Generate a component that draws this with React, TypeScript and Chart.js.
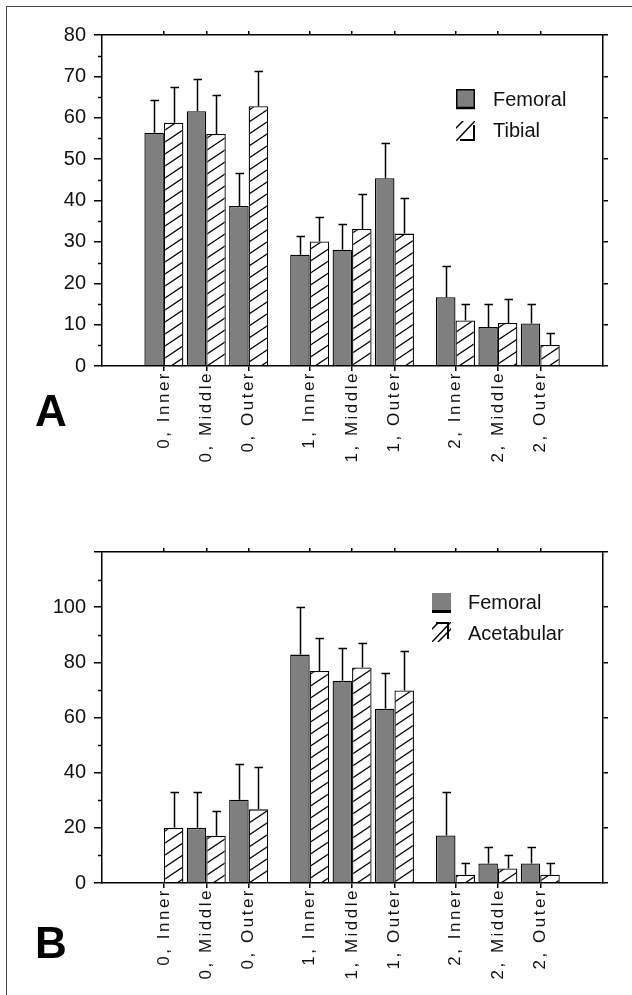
import React, { useEffect, useRef } from 'react';
import { Chart, registerables } from 'chart.js';

Chart.register(...registerables);

// ---------- data ----------
const CATEGORIES = ['0, Inner', '0, Middle', '0, Outer', '1, Inner', '1, Middle', '1, Outer', '2, Inner', '2, Middle', '2, Outer'];
const GROUP_OF = [0, 0, 0, 1, 1, 1, 2, 2, 2];
const SLOT_IN_GROUP = [0, 1, 2, 0, 1, 2, 0, 1, 2];
const GROUP_STEP = 3.44;
const X_MIN = -1.46;
const X_MAX = 10.36;

const A_FEMORAL = [56.4, 61.6, 38.7, 26.9, 28.1, 45.4, 16.6, 9.4, 10.3];
const A_FEMORAL_SD = [8.0, 7.8, 7.9, 4.6, 6.3, 8.6, 7.6, 5.6, 4.7];
const A_TIBIAL = [58.8, 56.1, 62.8, 30.1, 33.1, 32.0, 11.0, 10.4, 5.1];
const A_TIBIAL_SD = [8.6, 9.4, 8.6, 5.8, 8.4, 8.6, 4.0, 5.8, 2.9];

const B_FEMORAL = [null, 20.0, 30.2, 82.8, 73.3, 63.2, 17.2, 7.1, 7.1];
const B_FEMORAL_SD = [null, 13.0, 13.1, 17.2, 12.0, 13.1, 15.9, 5.9, 5.9];
const B_ACETABULAR = [20.0, 17.1, 26.7, 76.9, 78.1, 69.8, 3.0, 5.3, 3.0];
const B_ACETABULAR_SD = [13.1, 8.9, 15.2, 11.9, 8.9, 14.3, 4.1, 4.7, 4.1];

const A_Y_MAX = 80;
const A_Y_STEP = 10;
const A_Y_MINOR = [5, 15, 25, 35, 45, 55, 65, 75];
const B_Y_MAX = 120;
const B_Y_STEP = 20;
const B_Y_MINOR = [10, 30, 50, 70, 90, 110];
const B_Y_HIDDEN_LABEL = 120;

const X_POS = CATEGORIES.map((_, i) => GROUP_OF[i] * GROUP_STEP + SLOT_IN_GROUP[i]);

const FONT = '"Liberation Sans", Arial, Helvetica, sans-serif';
const GRAY = '#7f7f7f';

function makeHatch(): CanvasPattern {
  const c = document.createElement('canvas');
  const w = 18, h = 12;
  c.width = w; c.height = h;
  const g = c.getContext('2d')!;
  g.fillStyle = '#fff';
  g.fillRect(0, 0, w, h);
  g.strokeStyle = '#000';
  g.lineWidth = 1.3;
  for (const off of [-w, 0, w]) {
    g.beginPath();
    g.moveTo(off - w, 2 * h);
    g.lineTo(off + 2 * w, -h);
    g.stroke();
  }
  return g.createPattern(c, 'repeat')!;
}

type LegendItem = { label: string; kind: 'solid' | 'hatchA' | 'hatchB' | 'solidB'; sx: number; sy: number; tx: number; ty: number };

type PanelProps = {
  top: number;
  height: number;
  plotTop: number;
  plotBottom: number;
  femoral: (number | null)[];
  femoralSd: (number | null)[];
  other: (number | null)[];
  otherSd: (number | null)[];
  otherLabel: string;
  yMax: number;
  yStep: number;
  yMinor: number[];
  hiddenLabel?: number;
  legend: LegendItem[];
};

function BarPanel(p: PanelProps) {
  const ref = useRef<HTMLCanvasElement>(null);
  useEffect(() => {
    const canvas = ref.current!;
    const hatch = makeHatch();

    const errorBars = {
      id: 'errorBars',
      afterDatasetsDraw(chart: any) {
        const ctx = chart.ctx;
        const ys = chart.scales.y;
        ctx.save();
        ctx.strokeStyle = '#000';
        ctx.lineWidth = 1.5;
        chart.data.datasets.forEach((ds: any, di: number) => {
          const meta = chart.getDatasetMeta(di);
          meta.data.forEach((el: any, i: number) => {
            const v = ds.data[i].y;
            const e = ds.errors[i];
            if (v == null || e == null) return;
            const x = Math.round(el.x) + 0.5;
            const yb = ys.getPixelForValue(v);
            const yt = Math.round(ys.getPixelForValue(v + e)) + 0.5;
            ctx.beginPath();
            ctx.moveTo(x, yb);
            ctx.lineTo(x, yt);
            ctx.moveTo(x - 4, yt);
            ctx.lineTo(x + 4.5, yt);
            ctx.stroke();
          });
        });
        ctx.restore();
        // letter spacing for the rotated x labels, which are drawn after datasets
        ctx.letterSpacing = '2.5px';
      },
      afterDraw(chart: any) {
        const ctx = chart.ctx;
        ctx.letterSpacing = '0px';
        ctx.save();
        const ys = chart.scales.y;
        const left = chart.chartArea.left;
        ctx.strokeStyle = '#000';
        ctx.lineWidth = 1.5;
        p.yMinor.forEach((v) => {
          const y = Math.round(ys.getPixelForValue(v)) + 0.5;
          ctx.beginPath();
          ctx.moveTo(left - 4, y);
          ctx.lineTo(left, y);
          ctx.stroke();
        });
        p.legend.forEach((it) => {
          const w = 19, h = 20;
          if (it.kind === 'solid' || it.kind === 'solidB') {
            ctx.fillStyle = GRAY;
            ctx.fillRect(it.sx, it.sy, w, h);
            ctx.strokeStyle = '#000';
            if (it.kind === 'solid') {
              ctx.lineWidth = 1.5;
              ctx.strokeRect(it.sx + 0.75, it.sy + 0.75, w - 1.5, h - 1.5);
              ctx.lineWidth = 2.5;
              ctx.beginPath(); ctx.moveTo(it.sx, it.sy + h - 1); ctx.lineTo(it.sx + w, it.sy + h - 1); ctx.stroke();
            } else {
              ctx.lineWidth = 3;
              ctx.beginPath(); ctx.moveTo(it.sx, it.sy + h - 1.5); ctx.lineTo(it.sx + w, it.sy + h - 1.5); ctx.stroke();
            }
          } else {
            ctx.save();
            ctx.beginPath();
            ctx.rect(it.sx, it.sy, w, h);
            ctx.clip();
            ctx.strokeStyle = '#000';
            ctx.lineWidth = 1.5;
            ctx.beginPath();
            ctx.moveTo(it.sx, it.sy + h);
            ctx.lineTo(it.sx + w, it.sy);
            ctx.moveTo(it.sx - 1, it.sy + 8);
            ctx.lineTo(it.sx + 8, it.sy - 1);
            if (it.kind === 'hatchB') {
              ctx.moveTo(it.sx + 6, it.sy + h);
              ctx.lineTo(it.sx + w + 4, it.sy + 3);
            }
            ctx.stroke();
            ctx.lineWidth = 2;
            ctx.beginPath();
            if (it.kind === 'hatchA') {
              ctx.moveTo(it.sx + w - 1, it.sy + 4);
              ctx.lineTo(it.sx + w - 1, it.sy + h - 1);
              ctx.lineTo(it.sx + 4, it.sy + h - 1);
            } else {
              ctx.moveTo(it.sx + 4, it.sy + 1);
              ctx.lineTo(it.sx + w - 3, it.sy + 1);
              ctx.lineTo(it.sx + w - 3, it.sy + h - 3);
            }
            ctx.stroke();
            ctx.restore();
          }
          ctx.fillStyle = '#111';
          ctx.font = `20px ${FONT}`;
          ctx.textBaseline = 'middle';
          ctx.textAlign = 'left';
          ctx.fillText(it.label, it.tx, it.ty);
        });
        ctx.restore();
      },
    };

    const xTicksSetter = (s: any) => {
      s.ticks = X_POS.map((v) => ({ value: v }));
    };

    const chart = new Chart(canvas, {
      type: 'bar',
      data: {
        datasets: [
          {
            label: 'Femoral',
            data: X_POS.map((x, i) => ({ x, y: p.femoral[i] })) as any,
            backgroundColor: GRAY,
            borderColor: '#000',
            borderWidth: 1.3,
            categoryPercentage: 0.92,
            barPercentage: 1,
            errors: p.femoralSd,
          } as any,
          {
            label: p.otherLabel,
            data: X_POS.map((x, i) => ({ x, y: p.other[i] })) as any,
            backgroundColor: hatch,
            borderColor: '#000',
            borderWidth: 1.3,
            categoryPercentage: 0.92,
            barPercentage: 1,
            errors: p.otherSd,
          } as any,
        ],
      },
      options: {
        responsive: false,
        animation: false,
        events: [],
        layout: { padding: 0 },
        plugins: { legend: { display: false }, tooltip: { enabled: false } },
        scales: {
          x: {
            type: 'linear',
            position: 'bottom',
            min: X_MIN,
            max: X_MAX,
            offset: false,
            afterBuildTicks: xTicksSetter,
            afterFit: (s: any) => { s.height = p.height - p.plotBottom; },
            grid: { display: true, offset: false, drawOnChartArea: false, drawTicks: true, tickLength: 5, color: '#000', lineWidth: 1.5 },
            border: { display: true, color: '#000', width: 1.5, z: 1 },
            ticks: {
              autoSkip: false,
              minRotation: 90,
              maxRotation: 90,
              padding: 0,
              z: 1,
              color: '#111',
              font: { family: FONT, size: 17 },
              callback: (_v: any, i: number) => CATEGORIES[i],
            },
          },
          x2: {
            type: 'linear',
            position: 'top',
            min: X_MIN,
            max: X_MAX,
            offset: false,
            afterBuildTicks: xTicksSetter,
            afterFit: (s: any) => { s.height = p.plotTop; },
            grid: { display: true, offset: false, drawOnChartArea: false, drawTicks: true, tickLength: 4, color: '#000', lineWidth: 1.5 },
            border: { display: true, color: '#000', width: 1.5 },
            ticks: { display: false },
          },
          y: {
            type: 'linear',
            position: 'left',
            min: 0,
            max: p.yMax,
            afterFit: (s: any) => { s.width = 102; },
            grid: { display: true, drawOnChartArea: false, drawTicks: true, tickLength: 8, color: '#000', lineWidth: 1.5 },
            border: { display: true, color: '#000', width: 1.5 },
            ticks: {
              stepSize: p.yStep,
              padding: 8,
              color: '#111',
              font: { family: FONT, size: 20 },
              callback: (v: any) => (v === p.hiddenLabel ? '' : String(v)),
            },
          },
          y2: {
            type: 'linear',
            position: 'right',
            min: 0,
            max: p.yMax,
            afterFit: (s: any) => { s.width = 632 - 603; },
            grid: { display: true, drawOnChartArea: false, drawTicks: true, tickLength: 5, color: '#000', lineWidth: 1.5 },
            border: { display: true, color: '#000', width: 1.5 },
            ticks: { display: false, stepSize: p.yStep },
          },
        },
      } as any,
      plugins: [errorBars],
    });
    return () => chart.destroy();
  }, []);
  return (
    <canvas
      ref={ref}
      width={632}
      height={p.height}
      style={{ position: 'absolute', left: 0, top: p.top, display: 'block', width: 632, height: p.height }}
    />
  );
}

export default function App() {
  return (
    <div style={{ position: 'absolute', left: 0, top: 0, width: 632, height: 995, background: '#fff', overflow: 'hidden' }}>
      <div style={{ position: 'absolute', left: 6, top: 6, width: 640, height: 1000, borderTop: '1px solid #444', borderLeft: '1px solid #444' }} />
      <BarPanel
        top={0}
        height={497}
        plotTop={35}
        plotBottom={366}
        femoral={A_FEMORAL}
        femoralSd={A_FEMORAL_SD}
        other={A_TIBIAL}
        otherSd={A_TIBIAL_SD}
        otherLabel="Tibial"
        yMax={A_Y_MAX}
        yStep={A_Y_STEP}
        yMinor={A_Y_MINOR}
        legend={[
          { label: 'Femoral', kind: 'solid', sx: 456, sy: 89, tx: 493, ty: 100 },
          { label: 'Tibial', kind: 'hatchA', sx: 456, sy: 121, tx: 493, ty: 131 },
        ]}
      />
      <BarPanel
        top={497}
        height={498}
        plotTop={55}
        plotBottom={386}
        femoral={B_FEMORAL}
        femoralSd={B_FEMORAL_SD}
        other={B_ACETABULAR}
        otherSd={B_ACETABULAR_SD}
        otherLabel="Acetabular"
        yMax={B_Y_MAX}
        yStep={B_Y_STEP}
        yMinor={B_Y_MINOR}
        hiddenLabel={B_Y_HIDDEN_LABEL}
        legend={[
          { label: 'Femoral', kind: 'solidB', sx: 432, sy: 96, tx: 468, ty: 106 },
          { label: 'Acetabular', kind: 'hatchB', sx: 432, sy: 125, tx: 468, ty: 137 },
        ]}
      />
      <div style={{ position: 'absolute', left: 35, top: 389, font: `bold 44px ${FONT}`, lineHeight: '44px', color: '#000' }}>A</div>
      <div style={{ position: 'absolute', left: 35, top: 921, font: `bold 44px ${FONT}`, lineHeight: '44px', color: '#000' }}>B</div>
    </div>
  );
}
